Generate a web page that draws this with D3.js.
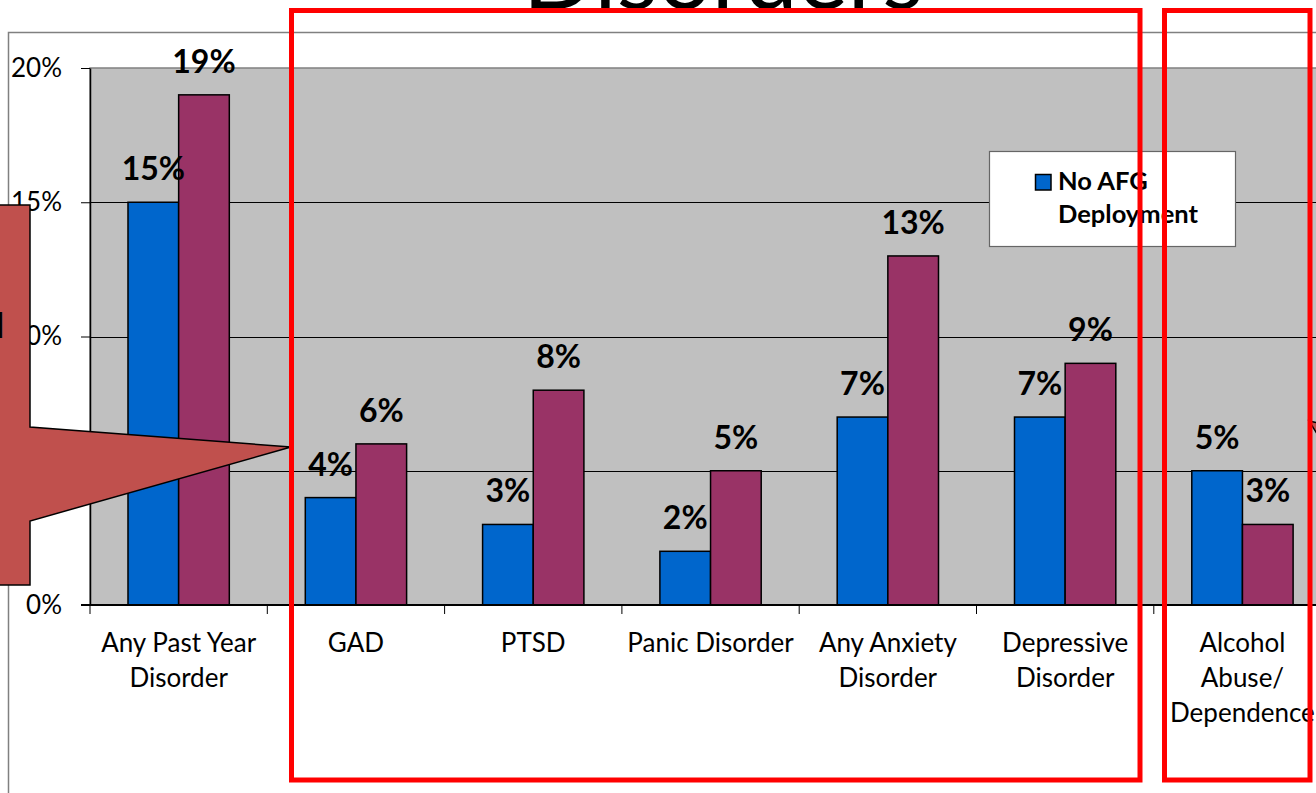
<!DOCTYPE html>
<html>
<head>
<meta charset="utf-8">
<script src="https://cdn.jsdelivr.net/npm/d3@7"></script>
<style>
  html, body { margin: 0; padding: 0; background: #ffffff; overflow: hidden; }
  svg { display: block; font-family: Lato, "Open Sans", sans-serif; }
</style>
</head>
<body>
<svg id="chart" width="1316" height="793"></svg>
<script>
// Prevalence of past-year disorders by deployment group
const categories = ["Any Past Year Disorder", "GAD", "PTSD", "Panic Disorder",
  "Any Anxiety Disorder", "Depressive Disorder", "Alcohol Abuse/ Dependence"];
const categoryLines = [["Any Past Year", "Disorder"], ["GAD"], ["PTSD"], ["Panic Disorder"],
  ["Any Anxiety", "Disorder"], ["Depressive", "Disorder"], ["Alcohol", "Abuse/", "Dependence"]];
const noDeployment = [15, 4, 3, 2, 7, 7, 5];
const afgDeployment = [19, 6, 8, 5, 13, 9, 3];
const seriesNames = ["No AFG Deployment", "AFG Deployment"];
const seriesColors = ["#0066CC", "#993366"];
const legendLines = ["No AFG", "Deployment"];
const yTicks = [0, 5, 10, 15, 20];
const titleText = "Disorders";
const calloutText = "Increased";

const svg = d3.select("#chart");
const W = 1316, H = 793;

const plot = { left: 90, top: 68, bottom: 605, bandWidth: 177.3 };
const x = d3.scaleBand().domain(categories)
  .range([plot.left, plot.left + plot.bandWidth * categories.length]).padding(0);
const bw = x.bandwidth();
const groupW = bw / 1.75;
const x1 = d3.scaleBand().domain([0, 1]).range([(bw - groupW) / 2, (bw + groupW) / 2]);
const y = d3.scaleLinear().domain([0, 20]).range([plot.bottom, plot.top]);

const rows = categories.map((c, i) => ({ cat: c, lines: categoryLines[i], vals: [noDeployment[i], afgDeployment[i]] }));

// outer chart frame
svg.append("path")
  .attr("d", `M8.5,${H + 2} V32.5 H${W + 2}`)
  .attr("fill", "none").attr("stroke", "#808080").attr("stroke-width", 1.5);

// plot area
svg.append("rect")
  .attr("x", plot.left).attr("y", y(20))
  .attr("width", x.range()[1] - plot.left).attr("height", plot.bottom - y(20))
  .attr("fill", "#C0C0C0").attr("stroke", "#808080").attr("stroke-width", 1.5);

// gridlines
svg.append("g").selectAll("line").data(yTicks.filter(t => t > 0 && t < 20)).join("line")
  .attr("x1", plot.left).attr("x2", x.range()[1])
  .attr("y1", d => Math.round(y(d)) + 0.5).attr("y2", d => Math.round(y(d)) + 0.5)
  .attr("stroke", "#000").attr("stroke-width", 1);

// bars
const groups = svg.append("g").selectAll("g").data(rows).join("g")
  .attr("transform", d => `translate(${x(d.cat)},0)`);
groups.selectAll("rect").data(d => d.vals.map((v, s) => ({ v, s }))).join("rect")
  .attr("x", d => x1(d.s)).attr("width", x1.bandwidth())
  .attr("y", d => y(d.v)).attr("height", d => y(0) - y(d.v))
  .attr("fill", d => seriesColors[d.s])
  .attr("stroke", "#000").attr("stroke-width", 1.5);

// value labels
groups.selectAll("text").data(d => d.vals.map((v, s) => ({ v, s }))).join("text")
  .attr("x", d => x1(d.s) + x1.bandwidth() / 2)
  .attr("y", d => y(d.v) - 22)
  .attr("text-anchor", "middle")
  .attr("font-weight", 700).attr("font-size", 32).attr("fill", "#000")
  .text(d => d.v + "%");

// y axis
const yAxis = svg.append("g").attr("transform", `translate(${plot.left},0)`)
  .call(d3.axisLeft(y).tickValues(yTicks).tickFormat(d => d + "%")
    .tickSize(9).tickSizeOuter(0).tickPadding(19));
yAxis.select(".domain").attr("stroke", "#000").attr("stroke-width", 1.5);
yAxis.selectAll(".tick line").attr("stroke", "#000");
yAxis.selectAll(".tick text").attr("font-family", "Lato, sans-serif")
  .attr("font-size", 26).attr("fill", "#000");

// x axis baseline and category boundary ticks
svg.append("line")
  .attr("x1", plot.left - 9).attr("x2", x.range()[1])
  .attr("y1", y(0)).attr("y2", y(0))
  .attr("stroke", "#000").attr("stroke-width", 2);
const bounds = categories.map(c => x(c)).concat([x.range()[1]]);
svg.append("g").selectAll("line").data(bounds).join("line")
  .attr("x1", d => d).attr("x2", d => d)
  .attr("y1", y(0)).attr("y2", y(0) + 9)
  .attr("stroke", "#000").attr("stroke-width", 1);

// category labels
const catLabels = svg.append("g").selectAll("text").data(rows).join("text")
  .attr("x", d => x(d.cat) + bw / 2)
  .attr("y", 652)
  .attr("text-anchor", "middle")
  .attr("font-size", 26).attr("fill", "#000");
catLabels.selectAll("tspan").data(d => d.lines).join("tspan")
  .attr("x", function () { return d3.select(this.parentNode).attr("x"); })
  .attr("dy", (d, i) => i === 0 ? 0 : 35)
  .text(d => d);

// legend
const legend = svg.append("g");
legend.append("rect")
  .attr("x", 989.5).attr("y", 151.5).attr("width", 246).attr("height", 95)
  .attr("fill", "#fff").attr("stroke", "#666").attr("stroke-width", 1.2);
legend.append("rect")
  .attr("x", 1035.5).attr("y", 174.5).attr("width", 15.5).attr("height", 15.5)
  .attr("fill", seriesColors[0]).attr("stroke", "#000").attr("stroke-width", 1.5);
legend.append("text")
  .attr("x", 1058).attr("y", 190)
  .attr("font-weight", 700).attr("font-size", 25.5).attr("fill", "#000")
  .selectAll("tspan").data(legendLines).join("tspan")
  .attr("x", 1058).attr("dy", (d, i) => i === 0 ? 0 : 33)
  .text(d => d);

// title (runs off the top edge)
svg.append("text")
  .attr("x", 723).attr("y", 9)
  .attr("text-anchor", "middle")
  .attr("font-size", 95).attr("fill", "#000")
  .text(titleText);

// left callout with arrow pointing to the anxiety group
const callout = d3.path();
callout.moveTo(-120, 205);
callout.lineTo(30, 205);
callout.lineTo(30, 427);
callout.lineTo(291, 447);
callout.lineTo(30, 521);
callout.lineTo(30, 585);
callout.lineTo(-120, 585);
callout.closePath();
svg.append("path").attr("d", callout.toString())
  .attr("fill", "#C0504D").attr("stroke", "#000").attr("stroke-width", 1.5);
svg.append("text")
  .attr("x", 4).attr("y", 338).attr("text-anchor", "end")
  .attr("font-weight", 700).attr("font-size", 34).attr("fill", "#000")
  .text(calloutText);

// right callout tip
const callout2 = d3.path();
callout2.moveTo(1309, 421);
callout2.lineTo(1340, 428);
callout2.lineTo(1340, 470);
callout2.closePath();
svg.append("path").attr("d", callout2.toString())
  .attr("fill", "#C0504D").attr("stroke", "#000").attr("stroke-width", 1.5);

// highlight boxes
const highlights = [
  { x0: 291.5, x1: 1140, y0: 10.5, y1: 780 },
  { x0: 1164.5, x1: 1310, y0: 10.5, y1: 780 }
];
svg.append("g").selectAll("rect").data(highlights).join("rect")
  .attr("x", d => d.x0).attr("y", d => d.y0)
  .attr("width", d => d.x1 - d.x0).attr("height", d => d.y1 - d.y0)
  .attr("fill", "none").attr("stroke", "#FF0000").attr("stroke-width", 5);
</script>
</body>
</html>
